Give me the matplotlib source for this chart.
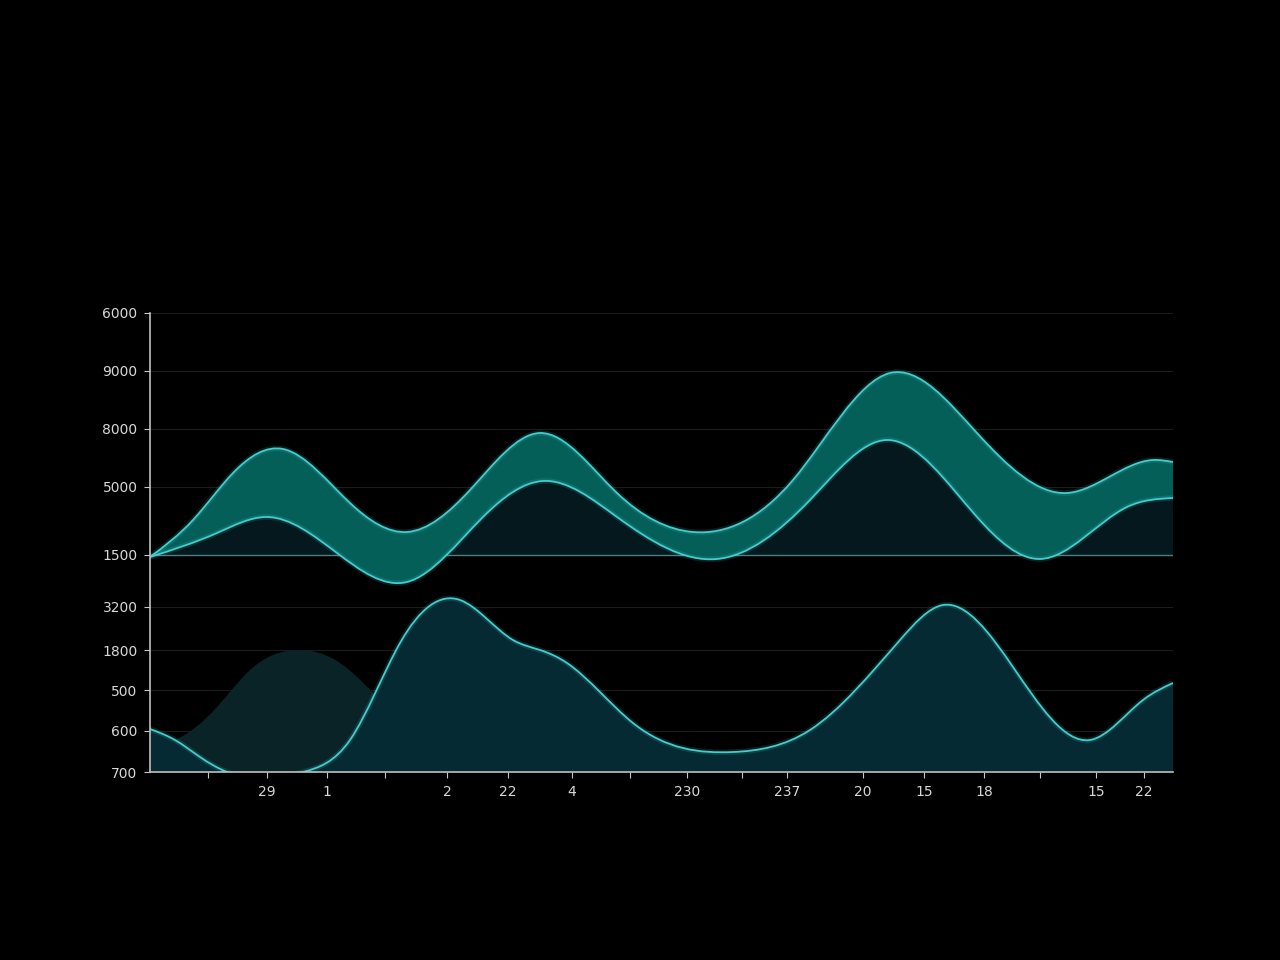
import numpy as np
import matplotlib.pyplot as plt
from matplotlib.path import Path
from matplotlib.patches import PathPatch

# top panel: band between two series, sitting on a baseline
upper_x = [0, 43, 83, 133, 200, 257, 320, 390, 467, 543, 643, 740, 827, 917, 1003, 1023]
upper_y = [215, 252, 299, 323, 269, 240, 282, 339, 279, 240, 292, 399, 339, 279, 312, 310]
lower_x = [0, 67, 117, 187, 257, 333, 393, 467, 567, 660, 737, 827, 890, 977, 1023]
lower_y = [215, 239, 255, 219, 190, 255, 291, 255, 213, 272, 332, 255, 213, 265, 274]
baseline = 217

# bottom panel: main area and faded area behind it
area_x = [0, 25, 50, 77, 153, 200, 250, 310, 363, 390, 417, 483, 583, 660, 750, 793,
          863, 940, 993, 1023]
area_y = [43, 32, 15, 0, 0, 32, 129, 172, 132, 122, 109, 49, 20, 42, 132, 167,
          105, 32, 72, 89]
ghost_x = [0, 25, 67, 100, 147, 190, 223, 290, 330]
ghost_y = [25, 32, 65, 102, 122, 109, 79, 15, 0]

# axis labels
ytick_pos = [459, 401, 343, 285, 217, 165, 122, 82, 41, 0]
ytick_lab = ["6000", "9000", "8000", "5000", "1500", "3200", "1800", "500", "600", "700"]
xtick_pos = [58, 117, 177, 235, 297, 358, 422, 480, 537, 592, 637, 713, 774, 834, 890, 946, 994]
xtick_lab = ["", "29", "1", "", "2", "22", "4", "", "230", "", "237", "20", "15", "18", "", "15", "22"]

LINE = "#45cccc"


def spline_slopes(x, y):
    # natural cubic spline, slopes at the knots
    n = len(x)
    h = np.diff(x)
    A = np.zeros((n, n))
    r = np.zeros(n)
    A[0, 0] = A[-1, -1] = 1
    for i in range(1, n - 1):
        A[i, i - 1] = h[i - 1]
        A[i, i] = 2 * (h[i - 1] + h[i])
        A[i, i + 1] = h[i]
        r[i] = 6 * ((y[i + 1] - y[i]) / h[i] - (y[i] - y[i - 1]) / h[i - 1])
    M = np.linalg.solve(A, r)
    m = np.zeros(n)
    m[:-1] = (y[1:] - y[:-1]) / h - h * (2 * M[:-1] + M[1:]) / 6
    m[-1] = (y[-1] - y[-2]) / h[-1] + h[-1] * (M[-2] + 2 * M[-1]) / 6
    return m


def curve_verts(xs, ys):
    x = np.asarray(xs, float)
    y = np.asarray(ys, float)
    m = spline_slopes(x, y)
    verts = [(x[0], y[0])]
    for i in range(len(x) - 1):
        h = x[i + 1] - x[i]
        verts.append((x[i] + h / 3, y[i] + m[i] * h / 3))
        verts.append((x[i + 1] - h / 3, y[i + 1] - m[i + 1] * h / 3))
        verts.append((x[i + 1], y[i + 1]))
    return verts


def curve_path(xs, ys):
    v = curve_verts(xs, ys)
    return Path(v, [Path.MOVETO] + [Path.CURVE4] * (len(v) - 1))


def area_path(xs, ys, base):
    v = curve_verts(xs, ys)
    v += [(xs[-1], base), (xs[0], base), (xs[0], base)]
    codes = [Path.MOVETO] + [Path.CURVE4] * (len(v) - 4) + [Path.LINETO, Path.LINETO, Path.CLOSEPOLY]
    return Path(v, codes)


def band_path(x1, y1, x2, y2):
    a = curve_verts(x1, y1)
    b = curve_verts(x2, y2)[::-1]
    v = a + b + [a[0]]
    codes = ([Path.MOVETO] + [Path.CURVE4] * (len(a) - 1) + [Path.LINETO]
             + [Path.CURVE4] * (len(b) - 1) + [Path.CLOSEPOLY])
    return Path(v, codes)


fig = plt.figure(figsize=(12.8, 9.6), dpi=100, facecolor="black")
ax = fig.add_axes([150 / 1280, 1 - 772 / 960, 1023 / 1280, 459 / 960])
ax.set_facecolor("black")
ax.set_xlim(0, 1023)
ax.set_ylim(0, 459)

# faint grid
for yy in ytick_pos:
    if yy not in (0, baseline):
        ax.axhline(yy, color="#1c1c1c", lw=0.8, zorder=0)

# bottom panel
ax.add_patch(PathPatch(area_path(ghost_x, ghost_y, 0), facecolor="#0a2326", edgecolor="none", zorder=1))
ax.add_patch(PathPatch(area_path(area_x, area_y, 0), facecolor="#062a33", edgecolor="none", zorder=2))
ax.add_patch(PathPatch(curve_path(area_x, area_y), facecolor="none", edgecolor=LINE, lw=4, alpha=0.15, zorder=3))
ax.add_patch(PathPatch(curve_path(area_x, area_y), facecolor="none", edgecolor=LINE, lw=1.3, zorder=3))

# top panel
ax.add_patch(PathPatch(area_path(lower_x, lower_y, baseline), facecolor="#05181d", edgecolor="none", zorder=4))
ax.axhline(baseline, color="#4a8080", lw=1.0, zorder=4)
ax.add_patch(PathPatch(band_path(upper_x, upper_y, lower_x, lower_y), facecolor="#055f59", edgecolor="none", zorder=5))
for xs, ys in [(upper_x, upper_y), (lower_x, lower_y)]:
    ax.add_patch(PathPatch(curve_path(xs, ys), facecolor="none", edgecolor=LINE, lw=4, alpha=0.15, zorder=6))
    ax.add_patch(PathPatch(curve_path(xs, ys), facecolor="none", edgecolor=LINE, lw=1.3, zorder=6))

ax.set_yticks(ytick_pos)
ax.set_yticklabels(ytick_lab)
ax.set_xticks(xtick_pos)
ax.set_xticklabels(xtick_lab)
ax.tick_params(colors="#c8c8c8", labelcolor="#d8d8d8", labelsize=10, length=4, width=0.8, pad=5)

for s in ["top", "right"]:
    ax.spines[s].set_visible(False)
for s in ["left", "bottom"]:
    ax.spines[s].set_color("#c0c0c0")
    ax.spines[s].set_linewidth(1.2)
    ax.spines[s].set_zorder(10)

fig.savefig("out.png", dpi=100, facecolor="black")
